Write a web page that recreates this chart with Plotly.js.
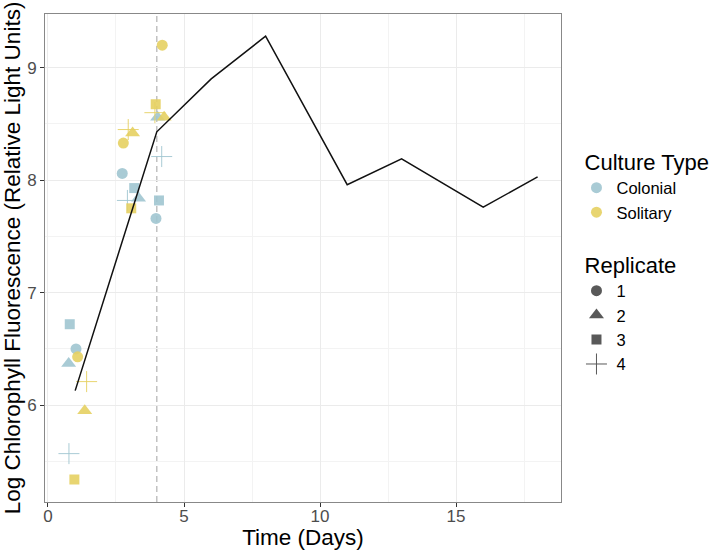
<!DOCTYPE html>
<html>
<head>
<meta charset="utf-8">
<script src="https://cdn.plot.ly/plotly-3.0.1.min.js"></script>
<style>
  html, body { margin: 0; padding: 0; background: #fff; }
  #chart { width: 709px; height: 550px; }
</style>
</head>
<body>
<div id="chart"></div>
<script>
// measured points: one row per culture / replicate / day
const culture = [
  'Colonial', 'Colonial', 'Colonial', 'Colonial', 'Colonial', 'Colonial',
  'Colonial', 'Colonial', 'Colonial', 'Colonial', 'Colonial', 'Colonial',
  'Solitary', 'Solitary', 'Solitary', 'Solitary', 'Solitary', 'Solitary',
  'Solitary', 'Solitary', 'Solitary', 'Solitary', 'Solitary', 'Solitary'
];
const replicate = [1, 1, 1, 2, 2, 2, 3, 3, 3, 4, 4, 4,
                   1, 1, 1, 2, 2, 2, 3, 3, 3, 4, 4, 4];
const day = [1.03, 2.73, 3.97, 0.76, 3.33, 4.03, 0.80, 3.17, 4.08, 0.77, 2.92, 4.18,
             1.09, 2.77, 4.20, 1.35, 3.11, 4.27, 0.97, 3.06, 3.96, 1.42, 2.95, 3.93];
const fluor = [6.50, 8.06, 7.66, 6.37, 7.84, 8.56, 6.72, 7.93, 7.82, 5.57, 7.82, 8.21,
               6.43, 8.33, 9.20, 5.95, 8.42, 8.56, 5.34, 7.75, 8.675, 6.21, 8.45, 8.60];

// black reference curve
const lineDay = [1, 4, 6, 8, 11, 13, 16, 18];
const lineVal = [6.13, 8.43, 8.90, 9.28, 7.96, 8.19, 7.76, 8.03];

const cultureTypes = ['Colonial', 'Solitary'];
const replicates = [1, 2, 3, 4];
const xTicks = [0, 5, 10, 15];
const yTicks = [6, 7, 8, 9];
const markerDay = 4;

const colours = { Colonial: 'rgba(160,197,208,0.9)', Solitary: 'rgba(230,208,98,0.9)' };
const symbols = { 1: 'circle', 2: 'triangle-up', 3: 'square', 4: 'cross-thin-open' };
const sizes = { 1: 11, 2: 13, 3: 10, 4: 15 };

const font = 'Liberation Sans, Arial, Helvetica, sans-serif';
const traces = [];

cultureTypes.forEach(c => {
  replicates.forEach(r => {
    const idx = culture.map((v, i) => i).filter(i => culture[i] === c && replicate[i] === r);
    const isPlus = symbols[r] === 'cross-thin-open';
    traces.push({
      x: idx.map(i => day[i]),
      y: idx.map(i => fluor[i]),
      type: 'scatter',
      mode: 'markers',
      showlegend: false,
      hoverinfo: 'x+y',
      marker: {
        symbol: symbols[r],
        size: sizes[r],
        color: colours[c],
        line: { width: isPlus ? 1 : 0, color: colours[c] }
      }
    });
  });
});

// legend-only entries
cultureTypes.forEach(c => {
  traces.push({
    x: [null], y: [null], type: 'scatter', mode: 'markers', name: c,
    legend: 'legend',
    marker: { symbol: 'circle', size: 11, color: colours[c] }
  });
});
replicates.forEach(r => {
  const isPlus = symbols[r] === 'cross-thin-open';
  traces.push({
    x: [null], y: [null], type: 'scatter', mode: 'markers', name: String(r),
    legend: 'legend2',
    marker: {
      symbol: symbols[r], size: sizes[r], color: '#595959',
      line: { width: isPlus ? 1 : 0, color: '#595959' }
    }
  });
});

traces.push({
  x: lineDay, y: lineVal, type: 'scatter', mode: 'lines',
  showlegend: false,
  line: { color: '#111', width: 1.5 }
});

const layout = {
  width: 709,
  height: 550,
  margin: { l: 45, r: 148, t: 14, b: 48, autoexpand: false },
  paper_bgcolor: '#fff',
  plot_bgcolor: '#fff',
  font: { family: font, color: '#000' },
  xaxis: {
    range: [-0.11, 18.86],
    tickvals: xTicks,
    ticktext: xTicks.map(String),
    ticks: 'outside', ticklen: 4, tickcolor: '#333', tickwidth: 1,
    ticklabelstandoff: -5,
    tickfont: { size: 17, color: '#4d4d4d' },
    showgrid: true, gridcolor: '#ebebeb', gridwidth: 1,
    minor: { dtick: 2.5, tick0: 0, showgrid: true, gridcolor: '#f3f3f3', gridwidth: 1 },
    zeroline: false,
    showline: true, linecolor: '#888', linewidth: 1, mirror: true,
    title: { text: 'Time (Days)', font: { size: 22.5, color: '#000' }, standoff: 0 }
  },
  yaxis: {
    range: [5.14, 9.477],
    tickvals: yTicks,
    ticktext: yTicks.map(String),
    ticks: 'outside', ticklen: 4, tickcolor: '#333', tickwidth: 1,
    tickfont: { size: 17, color: '#4d4d4d' },
    showgrid: true, gridcolor: '#ebebeb', gridwidth: 1,
    minor: { dtick: 0.5, tick0: 0, showgrid: true, gridcolor: '#f3f3f3', gridwidth: 1 },
    zeroline: false,
    showline: true, linecolor: '#888', linewidth: 1, mirror: true,
    title: { text: 'Log Chlorophyll Fluorescence (Relative Light Units)', font: { size: 22.5, color: '#000' }, standoff: 4 }
  },
  shapes: [{
    type: 'line', xref: 'x', yref: 'paper',
    x0: markerDay, x1: markerDay, y0: 0, y1: 1,
    layer: 'between',
    line: { color: '#b8b8b8', width: 1.3, dash: '6px,4px' }
  }],
  legend: {
    x: 1.03, xanchor: 'left', y: 0.738, yanchor: 'top',
    title: { text: '\u00a0Culture Type', font: { size: 22, color: '#000' } },
    font: { size: 16.5, color: '#000' },
    bgcolor: 'rgba(0,0,0,0)', tracegroupgap: 0
  },
  legend2: {
    x: 1.03, xanchor: 'left', y: 0.527, yanchor: 'top',
    title: { text: '\u00a0Replicate', font: { size: 22, color: '#000' } },
    font: { size: 16.5, color: '#000' },
    bgcolor: 'rgba(0,0,0,0)', tracegroupgap: 0
  }
};

Plotly.newPlot('chart', traces, layout, { displayModeBar: false, staticPlot: true });
</script>
</body>
</html>
